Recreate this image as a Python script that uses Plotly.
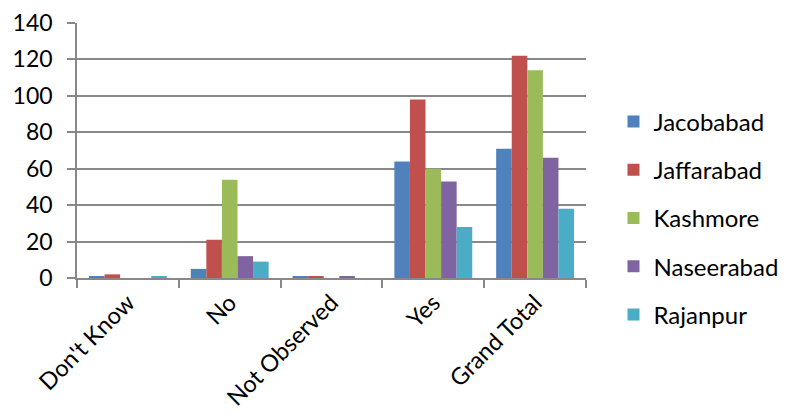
import plotly.graph_objects as go

categories = ["Don't Know", "No", "Not Observed", "Yes", "Grand Total"]
jacobabad = [1, 5, 1, 64, 71]
jaffarabad = [2, 21, 1, 98, 122]
kashmore = [0, 54, 0, 60, 114]
naseerabad = [0, 12, 1, 53, 66]
rajanpur = [1, 9, 0, 28, 38]
y_ticks = [0, 20, 40, 60, 80, 100, 120, 140]

series = [
    ("Jacobabad", jacobabad, "#4F81BD"),
    ("Jaffarabad", jaffarabad, "#C0504D"),
    ("Kashmore", kashmore, "#9BBB59"),
    ("Naseerabad", naseerabad, "#8064A2"),
    ("Rajanpur", rajanpur, "#4BACC6"),
]

FONT = "Lato"
fig = go.Figure()
for name, vals, col in series:
    fig.add_trace(go.Bar(x=categories, y=vals, name=name, marker_color=col,
                         marker_line_width=0, legendgroup=name))

fig.update_layout(
    width=792, height=416,
    margin=dict(l=77, r=206, t=23, b=138, autoexpand=False),
    paper_bgcolor="white", plot_bgcolor="white",
    barmode="group", bargap=0.235, bargroupgap=0,
    font=dict(family=FONT, size=22, color="black"),
    legend=dict(x=1.054, xanchor="left", y=0.70, yanchor="top", maxheight=1,
                font=dict(family=FONT, size=24, color="black"),
                tracegroupgap=14, bgcolor="rgba(0,0,0,0)"),
    xaxis=dict(showgrid=False, showline=True, linecolor="#888888", linewidth=1.5,
               ticks="outside", tickson="boundaries", ticklen=8, tickwidth=1.5,
               tickcolor="#888888", tickangle=-45, automargin=False,
               tickfont=dict(family=FONT, size=23.5, color="black")),
    yaxis=dict(range=[0, 140], tickvals=y_ticks, showgrid=True, gridcolor="#888888",
               gridwidth=1.5, showline=True, linecolor="#888888", linewidth=1.5,
               ticks="outside", ticklen=8, tickwidth=1.5, tickcolor="#888888",
               zeroline=False, ticklabelstandoff=10, automargin=False,
               tickfont=dict(family=FONT, size=23, color="black")),
)

fig.write_html("out.html")
